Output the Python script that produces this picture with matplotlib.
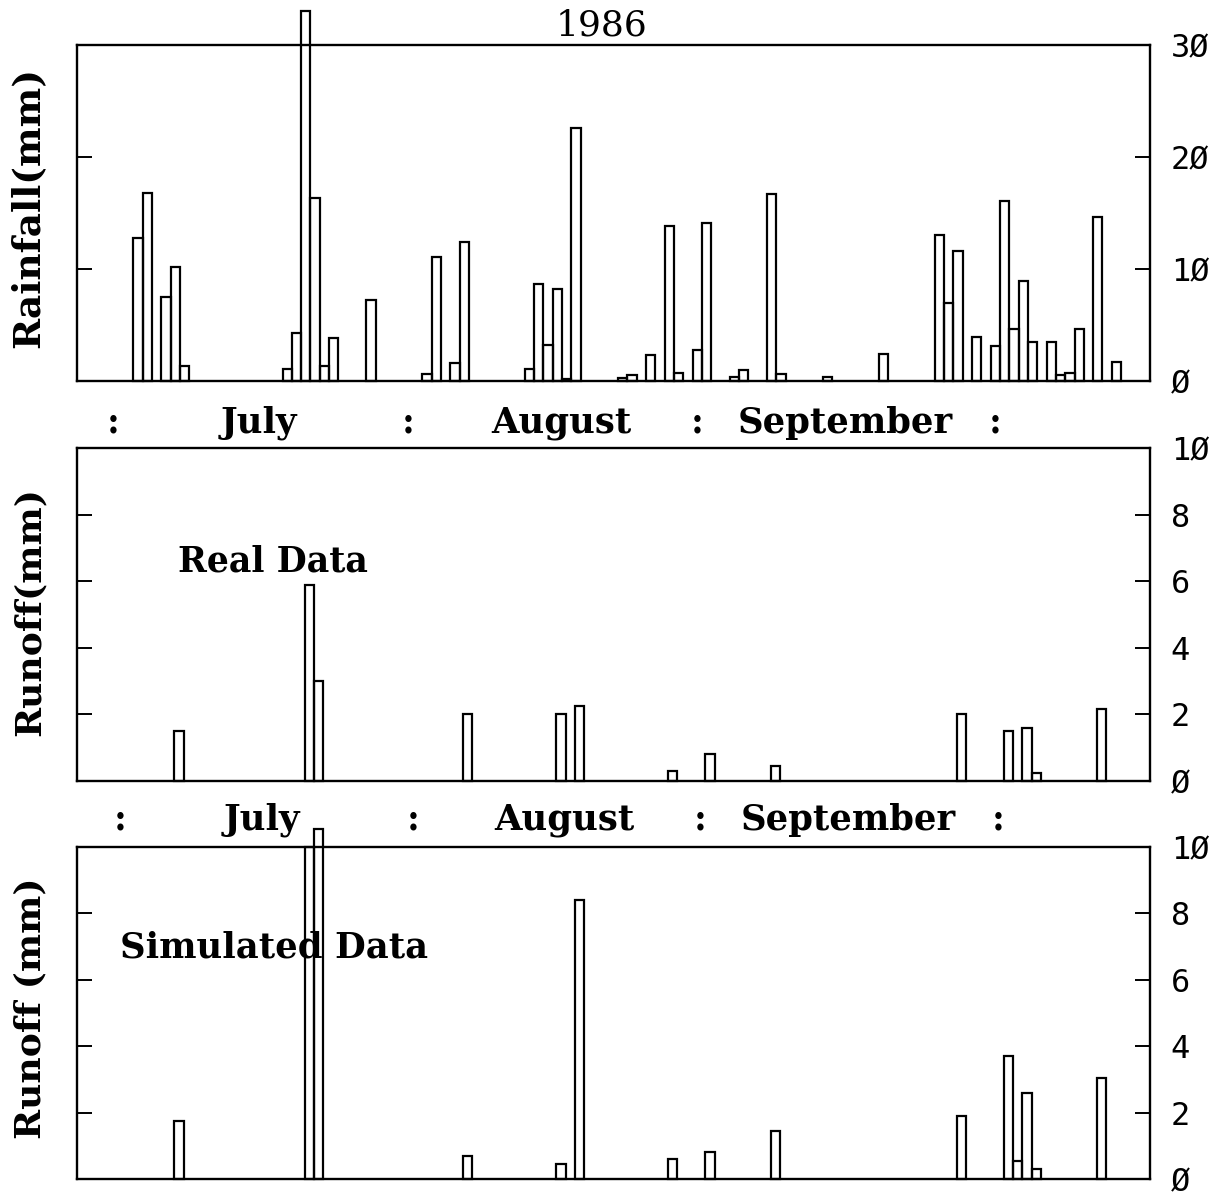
import matplotlib.pyplot as plt

# day index (0 = left edge of the axis), daily values in mm
rain_days = [6, 7, 9, 10, 11, 22, 23, 24, 25, 26, 27, 31, 37, 38, 40, 41,
             48, 49, 50, 51, 52, 53, 58, 59, 61, 63, 64, 66, 67, 70, 71, 74,
             75, 80, 86, 92, 93, 94, 96, 98, 99, 100, 101, 102, 104, 105,
             106, 107, 109, 111]
rain_mm = [12.8, 16.8, 7.5, 10.2, 1.3, 1.1, 4.3, 33.0, 16.3, 1.3, 3.8, 7.2,
           0.6, 11.1, 1.6, 12.4, 1.1, 8.7, 3.2, 8.2, 0.2, 22.6, 0.3, 0.5,
           2.3, 13.8, 0.7, 2.8, 14.1, 0.4, 1.0, 16.7, 0.6, 0.4, 2.4, 13.0,
           7.0, 11.6, 3.9, 3.1, 16.1, 4.6, 8.9, 3.5, 3.5, 0.5, 0.7, 4.6,
           14.6, 1.7]

real_days = [10, 24, 25, 41, 51, 53, 63, 67, 74, 94, 99, 101, 102, 109]
real_runoff = [1.5, 5.9, 3.0, 2.0, 2.0, 2.25, 0.3, 0.8, 0.45, 2.0, 1.5, 1.6,
               0.25, 2.15]

sim_days = [10, 24, 25, 41, 51, 53, 63, 67, 74, 94, 99, 100, 101, 102, 109]
sim_runoff = [1.75, 10.0, 10.55, 0.7, 0.45, 8.4, 0.6, 0.8, 1.45, 1.9, 3.7,
              0.55, 2.6, 0.3, 3.05]

months = ["July", "August", "September"]
zero = "\u00d8"

W, H = 1228, 1197
fig = plt.figure(figsize=(W / 100, H / 100), dpi=100)

label_font = dict(family="DejaVu Serif", fontweight="bold")


def panel(bottom_px, top_px, days, vals, ymax, step, xlim):
    ax = fig.add_axes([77 / W, 1 - bottom_px / H, (1150 - 77) / W,
                       (bottom_px - top_px) / H])
    ax.bar(days, vals, width=1.0, align="edge", fill=False,
           edgecolor="black", linewidth=1.6, clip_on=False)
    ax.set_xlim(*xlim)
    ax.set_ylim(0, ymax)
    ax.set_xticks([])
    ticks = list(range(0, ymax + 1, step))
    ax.set_yticks(ticks)
    ax.set_yticklabels([str(t).replace("0", zero) for t in ticks],
                       family="DejaVu Sans Mono", fontsize=23)
    ax.tick_params(axis="y", left=True, right=True, labelleft=False,
                   labelright=True, direction="in", length=11, width=1.4,
                   pad=15)
    for s in ax.spines.values():
        s.set_linewidth(1.7)
    return ax


ax1 = panel(381, 45, rain_days, rain_mm, 30, 10, (-0.06, 115.1))
ax2 = panel(781, 448, real_days, real_runoff, 10, 2, (-0.43, 114.7))
ax3 = panel(1179, 847, sim_days, sim_runoff, 10, 2, (-0.43, 114.7))

fig.text(601 / W, 1 - 25 / H, "1986", family="DejaVu Serif", fontsize=26,
         ha="center", va="center")

fig.text(28 / W, 1 - 207 / H, "Rainfall(mm)", rotation=90, fontsize=27,
         ha="center", va="center", **label_font)
fig.text(30 / W, 1 - 612 / H, "Runoff(mm)", rotation=90, fontsize=26,
         ha="center", va="center", **label_font)
fig.text(30 / W, 1 - 1008 / H, "Runoff (mm)", rotation=90, fontsize=26,
         ha="center", va="center", **label_font)

ax2.text(0.094, 0.66, "Real Data", transform=ax2.transAxes, fontsize=25,
         ha="left", va="center", **label_font)
ax3.text(0.040, 0.696, "Simulated Data", transform=ax3.transAxes,
         fontsize=25.5, ha="left", va="center", zorder=0, **label_font)

# month rows between the panels
for y_px, colons, centers in [(423, [113, 408, 697, 995], [259, 561, 845]),
                              (820, [120, 413, 700, 998], [262, 564, 848])]:
    for cx in colons:
        fig.text(cx / W, 1 - y_px / H, ":", fontsize=25, ha="center",
                 va="center", **label_font)
    for name, cx in zip(months, centers):
        fig.text(cx / W, 1 - y_px / H, name, fontsize=25.5, ha="center",
                 va="center", **label_font)

fig.savefig("out.png", dpi=100)
